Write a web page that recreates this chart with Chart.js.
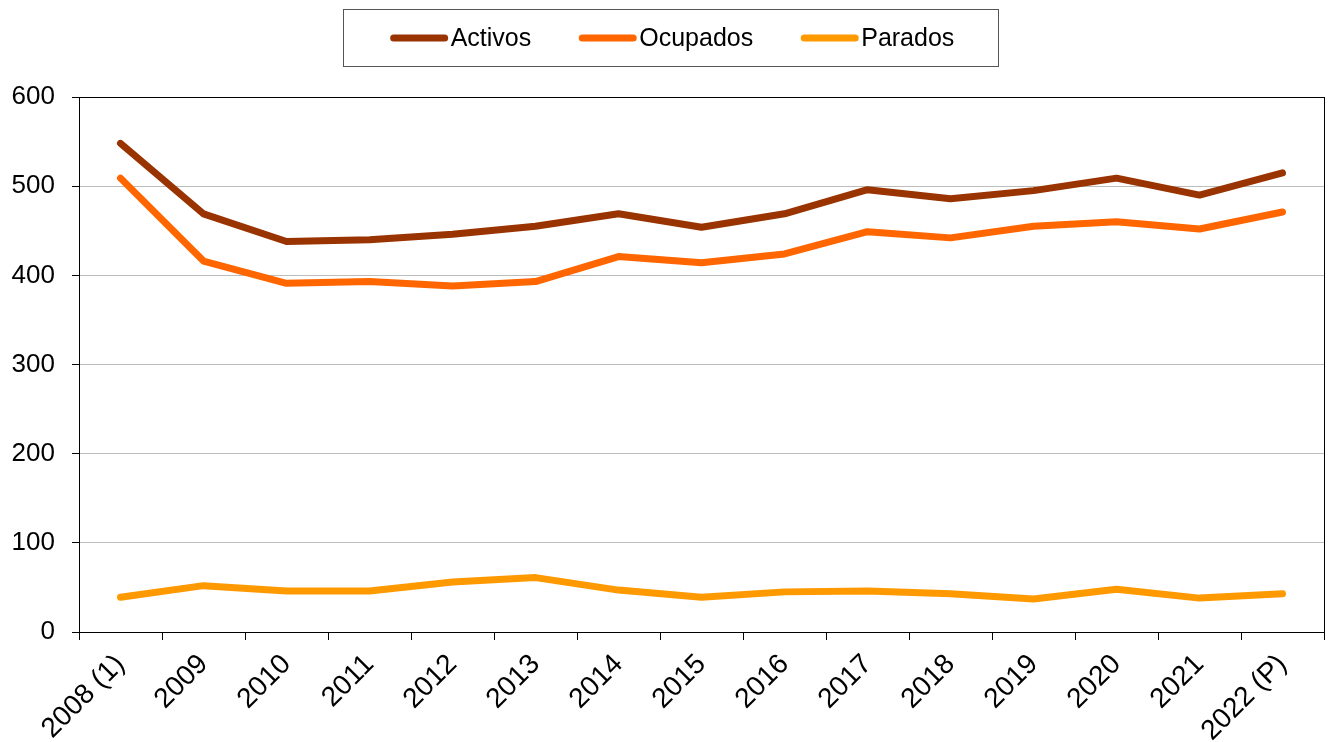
<!DOCTYPE html>
<html><head><meta charset="utf-8">
<script src="https://cdn.jsdelivr.net/npm/chart.js@4/dist/chart.umd.min.js"></script>
<style>html,body{margin:0;padding:0;background:#fff;}#wrap{width:1330px;height:742px;}</style>
</head><body><div id="wrap"><canvas id="c" width="1330" height="742"></canvas></div>
<script>
const categories = ["2008 (1)","2009","2010","2011","2012","2013","2014","2015","2016","2017","2018","2019","2020","2021","2022 (P)"];
const activos  = [548,469,438,440,446,455,469,454,469,496,486,495,509,490,515];
const ocupados = [509,416,391,393,388,393,421,414,424,449,442,455,460,452,471];
const parados  = [39,52,46,46,56,61,47,39,45,46,43,37,48,38,43];
const seriesNames = ["Activos","Ocupados","Parados"];
const seriesColors = ["#993300","#FF6600","#FF9900"];
const yTicks = [0,100,200,300,400,500,600];

const FONT = "'Liberation Sans', Arial, sans-serif";

const frame = {
  id: 'frame',
  afterDraw(chart) {
    const ctx = chart.ctx, a = chart.chartArea;
    ctx.save();
    ctx.strokeStyle = '#000'; ctx.lineWidth = 1;
    ctx.strokeRect(Math.round(a.left) + 0.5, Math.round(a.top) + 0.5, Math.round(a.right - a.left), Math.round(a.bottom - a.top));
    // legend
    ctx.font = '25px ' + FONT;
    const sample = 57, gapT = 3, gapItem = 48;
    const ds = chart.data.datasets;
    const widths = ds.map(d => sample + gapT + ctx.measureText(d.label).width);
    const total = widths.reduce((s, w) => s + w, 0) + gapItem * (ds.length - 1);
    const boxL = 343, boxR = 998, boxT = 9, boxB = 66;
    ctx.strokeStyle = '#555'; ctx.lineWidth = 1;
    ctx.strokeRect(boxL + 0.5, boxT + 0.5, boxR - boxL, boxB - boxT);
    let x = (boxL + boxR) / 2 - total / 2 + 2;
    const cy = 38;
    ds.forEach((d, i) => {
      ctx.strokeStyle = d.borderColor; ctx.lineWidth = 7; ctx.lineCap = 'round';
      ctx.beginPath(); ctx.moveTo(x + 3, cy); ctx.lineTo(x + sample - 3, cy); ctx.stroke();
      ctx.fillStyle = '#000'; ctx.textBaseline = 'middle'; ctx.textAlign = 'left';
      ctx.fillText(d.label, x + sample + gapT, cy + 1);
      x += widths[i] + gapItem;
    });
    ctx.restore();
  }
};

new Chart(document.getElementById('c'), {
  type: 'line',
  data: {
    labels: categories,
    datasets: [activos, ocupados, parados].map((v, i) => ({
      label: seriesNames[i], data: v, borderColor: seriesColors[i], backgroundColor: seriesColors[i],
      borderWidth: 7, borderCapStyle: 'round', borderJoinStyle: 'round', pointRadius: 0, tension: 0, fill: false
    }))
  },
  options: {
    responsive: false, animation: false,
    layout: { padding: { left: 8, right: 6, top: 97, bottom: 0 } },
    plugins: { legend: { display: false }, tooltip: { enabled: false } },
    scales: {
      x: {
        offset: true,
        grid: { offset: true, drawOnChartArea: false, color: '#000', tickLength: 8 },
        border: { color: '#000', width: 1 },
        ticks: { color: '#000', font: { family: FONT, size: 28 }, maxRotation: 45, minRotation: 45, padding: 8, autoSkip: false },
        afterFit(axis) { axis.paddingLeft = 0; axis.paddingRight = 0; axis.height = 110; }
      },
      y: {
        min: 0, max: 600,
        afterBuildTicks(axis) { axis.ticks = yTicks.map(v => ({ value: v })); },
        grid: { color: '#bdbdbd', tickColor: '#000', tickLength: 7 },
        border: { color: '#000', width: 1 },
        ticks: { color: '#000', font: { family: FONT, size: 26 }, padding: 17 },
        afterFit(axis) { axis.width = 71; }
      }
    }
  },
  plugins: [frame]
});
</script></body></html>
